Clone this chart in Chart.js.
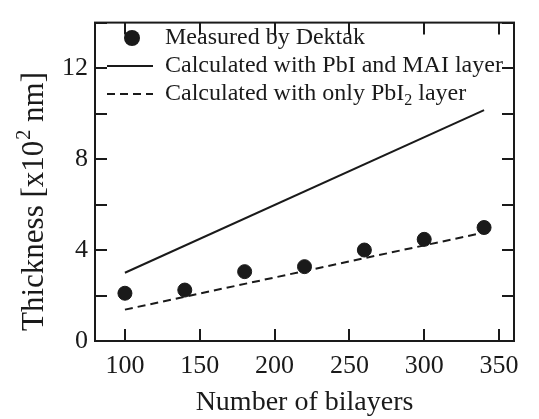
<!DOCTYPE html>
<html><head><meta charset="utf-8">
<script src="https://cdn.jsdelivr.net/npm/chart.js@4/dist/chart.umd.min.js"></script>
<style>html,body{margin:0;padding:0;background:#fff}canvas{display:block}</style>
</head><body>
<canvas id="c" width="539" height="419" style="width:539px;height:419px"></canvas>
<script>
// ---- data ----
const bilayers = [100, 140, 180, 220, 260, 300, 340];
const measured = [2.10, 2.24, 3.05, 3.27, 4.00, 4.47, 4.99];
const calcX = [100, 340];
const calcPbiMai = [3.00, 10.15];
const calcPbi2Only = [1.38, 4.77];
const xTicks = [100, 150, 200, 250, 300, 350];
const yTicks = [0, 2, 4, 6, 8, 10, 12, 14];
const yLabeled = [0, 4, 8, 12];
const legendLabels = ['Measured by Dektak', 'Calculated with PbI and MAI layer', 'Calculated with only PbI', '2', ' layer'];
const xTitle = 'Number of bilayers';
const yTitleParts = ['Thickness [x10', '2', ' nm]'];

const SERIF = '"Liberation Serif", "Times New Roman", serif';
const toXY = (xs, ys) => xs.map((x, i) => ({x: x, y: ys[i]}));

const framePlugin = {
  id: 'frame',
  afterDraw(chart) {
    const ctx = chart.ctx, a = chart.chartArea;
    const xs = chart.scales.x, ys = chart.scales.y;
    ctx.save();
    ctx.strokeStyle = '#1a1a1a';
    ctx.lineWidth = 2;
    ctx.strokeRect(a.left, a.top, a.right - a.left, a.bottom - a.top);
    const tl = 12;
    ctx.beginPath();
    xTicks.forEach(v => {
      const px = Math.round(xs.getPixelForValue(v));
      ctx.moveTo(px, a.bottom); ctx.lineTo(px, a.bottom - tl);
      ctx.moveTo(px, a.top); ctx.lineTo(px, a.top + tl);
    });
    yTicks.forEach(v => {
      const py = Math.round(ys.getPixelForValue(v));
      ctx.moveTo(a.left, py); ctx.lineTo(a.left + tl, py);
      ctx.moveTo(a.right, py); ctx.lineTo(a.right - tl, py);
    });
    ctx.stroke();

    // y-axis title with superscript
    ctx.fillStyle = '#1a1a1a';
    ctx.translate(43, 202);
    ctx.rotate(-Math.PI / 2);
    const big = '31px ' + SERIF, small = '20px ' + SERIF;
    ctx.font = big; const w1 = ctx.measureText(yTitleParts[0]).width;
    const w3 = ctx.measureText(yTitleParts[2]).width;
    ctx.font = small; const w2 = ctx.measureText(yTitleParts[1]).width;
    let x0 = -(w1 + w2 + w3) / 2;
    ctx.textBaseline = 'alphabetic'; ctx.textAlign = 'left';
    ctx.font = big; ctx.fillText(yTitleParts[0], x0, 0);
    ctx.font = small; ctx.fillText(yTitleParts[1], x0 + w1 + 1, -13);
    ctx.font = big; ctx.fillText(yTitleParts[2], x0 + w1 + w2 + 1, 0);
    ctx.restore();

    // legend
    ctx.save();
    ctx.fillStyle = '#1a1a1a'; ctx.strokeStyle = '#1a1a1a';
    ctx.beginPath(); ctx.arc(132, 38, 8, 0, Math.PI * 2); ctx.fill();
    ctx.lineWidth = 2;
    ctx.beginPath(); ctx.moveTo(107, 66); ctx.lineTo(153, 66); ctx.stroke();
    ctx.setLineDash([8, 5]);
    ctx.beginPath(); ctx.moveTo(107, 94); ctx.lineTo(153, 94); ctx.stroke();
    ctx.setLineDash([]);
    const lf = '24px ' + SERIF, sf = '16px ' + SERIF;
    ctx.textBaseline = 'middle'; ctx.textAlign = 'left';
    ctx.font = lf;
    ctx.fillText(legendLabels[0], 165, 38);
    ctx.fillText(legendLabels[1], 165, 66);
    ctx.fillText(legendLabels[2], 165, 94);
    let w = ctx.measureText(legendLabels[2]).width;
    ctx.font = sf; ctx.fillText(legendLabels[3], 165 + w, 101);
    const ws = ctx.measureText(legendLabels[3]).width;
    ctx.font = lf; ctx.fillText(legendLabels[4], 165 + w + ws, 94);
    ctx.restore();
  }
};

new Chart(document.getElementById('c'), {
  type: 'scatter',
  data: {
    datasets: [
      { label: legendLabels[0], data: toXY(bilayers, measured), backgroundColor: '#1a1a1a', borderColor: '#1a1a1a', pointRadius: 7, showLine: false },
      { label: 'PbI+MAI', data: toXY(calcX, calcPbiMai), borderColor: '#1a1a1a', borderWidth: 2, pointRadius: 0, showLine: true, fill: false },
      { label: 'PbI2', data: toXY(calcX, calcPbi2Only), borderColor: '#1a1a1a', borderWidth: 2, borderDash: [8, 5], pointRadius: 0, showLine: true, fill: false }
    ]
  },
  options: {
    responsive: false,
    animation: false,
    devicePixelRatio: 1,
    layout: { padding: { left: 0, top: 16, right: 25, bottom: 0 } },
    plugins: { legend: { display: false }, tooltip: { enabled: false } },
    scales: {
      x: {
        type: 'linear', min: 80, max: 360,
        afterBuildTicks: s => { s.ticks = xTicks.map(v => ({ value: v })); },
        afterFit: s => { s.height = 78; },
        grid: { display: false, drawTicks: false },
        border: { display: false },
        ticks: { color: '#1a1a1a', font: { family: SERIF, size: 26 }, padding: 10, maxRotation: 0, autoSkip: false },
        title: { display: true, text: xTitle, color: '#1a1a1a', font: { family: SERIF, size: 28 }, padding: { top: 2, bottom: 0 } }
      },
      y: {
        type: 'linear', min: 0, max: 14,
        afterBuildTicks: s => { s.ticks = yTicks.map(v => ({ value: v })); },
        afterFit: s => { s.width = 95; },
        grid: { display: false, drawTicks: false },
        border: { display: false },
        ticks: { color: '#1a1a1a', font: { family: SERIF, size: 26 }, padding: 7, autoSkip: false,
          callback: v => yLabeled.includes(v) ? String(v) : '' }
      }
    }
  },
  plugins: [framePlugin]
});
</script>
</body></html>
